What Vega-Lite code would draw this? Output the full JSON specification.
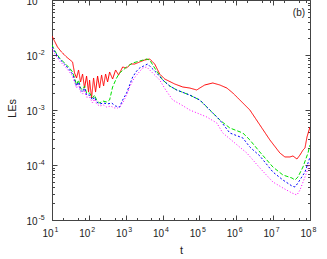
{
  "$schema": "https://vega.github.io/schema/vega-lite/v6.json",
  "width": 258,
  "height": 220,
  "autosize": {"type": "none"},
  "padding": {"left": 52, "top": 0, "right": 17, "bottom": 39},
  "config": {
    "view": {"stroke": "#444", "strokeWidth": 1},
    "axis": {
      "labelFont": "Liberation Sans",
      "labelFontSize": 10,
      "labelColor": "#222",
      "titleFont": "Liberation Sans",
      "titleFontSize": 11,
      "titleFontWeight": "normal",
      "titleColor": "#222",
      "grid": false,
      "domainColor": "#444",
      "tickColor": "#444"
    }
  },
  "datasets": {
    "labs": [
      {"ax": "x", "t": 10, "y": 0.00001, "e": "1"},
      {"ax": "x", "t": 100, "y": 0.00001, "e": "2"},
      {"ax": "x", "t": 1000, "y": 0.00001, "e": "3"},
      {"ax": "x", "t": 10000, "y": 0.00001, "e": "4"},
      {"ax": "x", "t": 100000, "y": 0.00001, "e": "5"},
      {"ax": "x", "t": 1000000, "y": 0.00001, "e": "6"},
      {"ax": "x", "t": 10000000, "y": 0.00001, "e": "7"},
      {"ax": "x", "t": 100000000, "y": 0.00001, "e": "8"},
      {"ax": "y", "t": 10, "y": 0.00001, "e": "-5"},
      {"ax": "y", "t": 10, "y": 0.0001, "e": "-4"},
      {"ax": "y", "t": 10, "y": 0.001, "e": "-3"},
      {"ax": "y", "t": 10, "y": 0.01, "e": "-2"},
      {"ax": "y", "t": 10, "y": 0.1, "e": "-1"}
    ],
    "lines": [
      {"s": "a", "t": 10, "y": 0.0221},
      {"s": "a", "t": 14.1, "y": 0.01398},
      {"s": "a", "t": 18.1, "y": 0.01134},
      {"s": "a", "t": 24.8, "y": 0.0092},
      {"s": "a", "t": 36.1, "y": 0.00746},
      {"s": "a", "t": 40.9, "y": 0.00471},
      {"s": "a", "t": 46.3, "y": 0.00382},
      {"s": "a", "t": 52.5, "y": 0.00534},
      {"s": "a", "t": 59.6, "y": 0.00323},
      {"s": "a", "t": 67.5, "y": 0.00451},
      {"s": "a", "t": 76.4, "y": 0.00251},
      {"s": "a", "t": 86.7, "y": 0.00415},
      {"s": "a", "t": 98.2, "y": 0.00212},
      {"s": "a", "t": 104.5, "y": 0.00351},
      {"s": "a", "t": 118.5, "y": 0.00165},
      {"s": "a", "t": 134.3, "y": 0.00382},
      {"s": "a", "t": 152, "y": 0.00212},
      {"s": "a", "t": 172.6, "y": 0.00415},
      {"s": "a", "t": 195.5, "y": 0.00251},
      {"s": "a", "t": 221.5, "y": 0.00433},
      {"s": "a", "t": 251, "y": 0.00273},
      {"s": "a", "t": 284.5, "y": 0.00451},
      {"s": "a", "t": 322.6, "y": 0.00323},
      {"s": "a", "t": 365.6, "y": 0.00491},
      {"s": "a", "t": 441, "y": 0.00366},
      {"s": "a", "t": 532, "y": 0.00534},
      {"s": "a", "t": 642, "y": 0.00433},
      {"s": "a", "t": 825, "y": 0.00605},
      {"s": "a", "t": 1059, "y": 0.0058},
      {"s": "a", "t": 1361, "y": 0.00686},
      {"s": "a", "t": 1746, "y": 0.00686},
      {"s": "a", "t": 2388, "y": 0.00746},
      {"s": "a", "t": 3266, "y": 0.00811},
      {"s": "a", "t": 4467, "y": 0.00846},
      {"s": "a", "t": 6110, "y": 0.00686},
      {"s": "a", "t": 8356, "y": 0.00451},
      {"s": "a", "t": 11430, "y": 0.00366},
      {"s": "a", "t": 21380, "y": 0.00297},
      {"s": "a", "t": 35260, "y": 0.00262},
      {"s": "a", "t": 54580, "y": 0.00251},
      {"s": "a", "t": 84720, "y": 0.00231},
      {"s": "a", "t": 102100, "y": 0.00251},
      {"s": "a", "t": 139700, "y": 0.00285},
      {"s": "a", "t": 230600, "y": 0.0031},
      {"s": "a", "t": 357300, "y": 0.00285},
      {"s": "a", "t": 553400, "y": 0.00251},
      {"s": "a", "t": 805500, "y": 0.00204},
      {"s": "a", "t": 1250000, "y": 0.00152},
      {"s": "a", "t": 2335000, "y": 0.001},
      {"s": "a", "t": 4365000, "y": 0.000534},
      {"s": "a", "t": 8166000, "y": 0.000285},
      {"s": "a", "t": 15280000, "y": 0.000165},
      {"s": "a", "t": 20890000, "y": 0.00014},
      {"s": "a", "t": 28580000, "y": 0.00014},
      {"s": "a", "t": 34450000, "y": 0.000146},
      {"s": "a", "t": 44250000, "y": 0.0001285},
      {"s": "a", "t": 53450000, "y": 0.000152},
      {"s": "a", "t": 64450000, "y": 0.000187},
      {"s": "a", "t": 73100000, "y": 0.000204},
      {"s": "a", "t": 82800000, "y": 0.000323},
      {"s": "a", "t": 100000000, "y": 0.000491},

      {"s": "b", "t": 10, "y": 0.0152},
      {"s": "b", "t": 12.45, "y": 0.01134},
      {"s": "b", "t": 16.0, "y": 0.00882},
      {"s": "b", "t": 21.9, "y": 0.00715},
      {"s": "b", "t": 29.9, "y": 0.0058},
      {"s": "b", "t": 36.1, "y": 0.00491},
      {"s": "b", "t": 40.9, "y": 0.00382},
      {"s": "b", "t": 46.3, "y": 0.00285},
      {"s": "b", "t": 52.5, "y": 0.00351},
      {"s": "b", "t": 59.6, "y": 0.00251},
      {"s": "b", "t": 67.5, "y": 0.00231},
      {"s": "b", "t": 76.4, "y": 0.00273},
      {"s": "b", "t": 86.7, "y": 0.00204},
      {"s": "b", "t": 104.5, "y": 0.00204},
      {"s": "b", "t": 126.1, "y": 0.00165},
      {"s": "b", "t": 143, "y": 0.00187},
      {"s": "b", "t": 162, "y": 0.00152},
      {"s": "b", "t": 195.5, "y": 0.00134},
      {"s": "b", "t": 235.9, "y": 0.00146},
      {"s": "b", "t": 303, "y": 0.0014},
      {"s": "b", "t": 365.6, "y": 0.00152},
      {"s": "b", "t": 441, "y": 0.00262},
      {"s": "b", "t": 566, "y": 0.00382},
      {"s": "b", "t": 683.5, "y": 0.00471},
      {"s": "b", "t": 1059, "y": 0.00605},
      {"s": "b", "t": 1542, "y": 0.00715},
      {"s": "b", "t": 2388, "y": 0.00778},
      {"s": "b", "t": 3705, "y": 0.00846},
      {"s": "b", "t": 4467, "y": 0.00811},
      {"s": "b", "t": 6110, "y": 0.0058},
      {"s": "b", "t": 10080, "y": 0.00351},
      {"s": "b", "t": 15630, "y": 0.00273},
      {"s": "b", "t": 24230, "y": 0.00231},
      {"s": "b", "t": 54580, "y": 0.00187},
      {"s": "b", "t": 102100, "y": 0.00152},
      {"s": "b", "t": 191100, "y": 0.001},
      {"s": "b", "t": 357300, "y": 0.000658},
      {"s": "b", "t": 668000, "y": 0.000471},
      {"s": "b", "t": 1507000, "y": 0.000382},
      {"s": "b", "t": 2335000, "y": 0.000285},
      {"s": "b", "t": 4365000, "y": 0.000172},
      {"s": "b", "t": 9851000, "y": 0.000092},
      {"s": "b", "t": 18420000, "y": 0.0000658},
      {"s": "b", "t": 32350000, "y": 0.000058},
      {"s": "b", "t": 39040000, "y": 0.0000534},
      {"s": "b", "t": 47100000, "y": 0.0000605},
      {"s": "b", "t": 64450000, "y": 0.000092},
      {"s": "b", "t": 88100000, "y": 0.000165},
      {"s": "b", "t": 100000000, "y": 0.000231},

      {"s": "c", "t": 10, "y": 0.01398},
      {"s": "c", "t": 12.45, "y": 0.01088},
      {"s": "c", "t": 16.0, "y": 0.00846},
      {"s": "c", "t": 21.9, "y": 0.00686},
      {"s": "c", "t": 29.9, "y": 0.00534},
      {"s": "c", "t": 36.1, "y": 0.00451},
      {"s": "c", "t": 40.9, "y": 0.00351},
      {"s": "c", "t": 46.3, "y": 0.00273},
      {"s": "c", "t": 52.5, "y": 0.00323},
      {"s": "c", "t": 59.6, "y": 0.00231},
      {"s": "c", "t": 67.5, "y": 0.00212},
      {"s": "c", "t": 76.4, "y": 0.00251},
      {"s": "c", "t": 86.7, "y": 0.00187},
      {"s": "c", "t": 104.5, "y": 0.00187},
      {"s": "c", "t": 126.1, "y": 0.00152},
      {"s": "c", "t": 143, "y": 0.00172},
      {"s": "c", "t": 162, "y": 0.0014},
      {"s": "c", "t": 195.5, "y": 0.00129},
      {"s": "c", "t": 251, "y": 0.00134},
      {"s": "c", "t": 322.6, "y": 0.00129},
      {"s": "c", "t": 414, "y": 0.00134},
      {"s": "c", "t": 532, "y": 0.00118},
      {"s": "c", "t": 683.5, "y": 0.00113},
      {"s": "c", "t": 825, "y": 0.00152},
      {"s": "c", "t": 1059, "y": 0.00204},
      {"s": "c", "t": 1278, "y": 0.00285},
      {"s": "c", "t": 1542, "y": 0.00398},
      {"s": "c", "t": 1981, "y": 0.00512},
      {"s": "c", "t": 2388, "y": 0.0058},
      {"s": "c", "t": 3070, "y": 0.00631},
      {"s": "c", "t": 3944, "y": 0.00686},
      {"s": "c", "t": 5066, "y": 0.0058},
      {"s": "c", "t": 6927, "y": 0.00471},
      {"s": "c", "t": 10080, "y": 0.00351},
      {"s": "c", "t": 15630, "y": 0.00273},
      {"s": "c", "t": 24230, "y": 0.00231},
      {"s": "c", "t": 54580, "y": 0.00187},
      {"s": "c", "t": 102100, "y": 0.00152},
      {"s": "c", "t": 191100, "y": 0.001},
      {"s": "c", "t": 357300, "y": 0.000658},
      {"s": "c", "t": 668000, "y": 0.000382},
      {"s": "c", "t": 1507000, "y": 0.00031},
      {"s": "c", "t": 2335000, "y": 0.000212},
      {"s": "c", "t": 4365000, "y": 0.000146},
      {"s": "c", "t": 9851000, "y": 0.0000746},
      {"s": "c", "t": 18420000, "y": 0.0000534},
      {"s": "c", "t": 32350000, "y": 0.0000415},
      {"s": "c", "t": 39040000, "y": 0.0000398},
      {"s": "c", "t": 47100000, "y": 0.0000471},
      {"s": "c", "t": 73100000, "y": 0.0000746},
      {"s": "c", "t": 100000000, "y": 0.00014},

      {"s": "d", "t": 10, "y": 0.01341},
      {"s": "d", "t": 12.45, "y": 0.01},
      {"s": "d", "t": 16.0, "y": 0.00778},
      {"s": "d", "t": 21.9, "y": 0.00631},
      {"s": "d", "t": 29.9, "y": 0.00491},
      {"s": "d", "t": 36.1, "y": 0.00415},
      {"s": "d", "t": 40.9, "y": 0.00323},
      {"s": "d", "t": 46.3, "y": 0.00251},
      {"s": "d", "t": 52.5, "y": 0.00297},
      {"s": "d", "t": 59.6, "y": 0.00212},
      {"s": "d", "t": 67.5, "y": 0.00195},
      {"s": "d", "t": 76.4, "y": 0.00231},
      {"s": "d", "t": 86.7, "y": 0.00172},
      {"s": "d", "t": 104.5, "y": 0.00172},
      {"s": "d", "t": 126.1, "y": 0.00134},
      {"s": "d", "t": 143, "y": 0.00158},
      {"s": "d", "t": 162, "y": 0.00129},
      {"s": "d", "t": 195.5, "y": 0.00118},
      {"s": "d", "t": 251, "y": 0.00123},
      {"s": "d", "t": 303, "y": 0.00113},
      {"s": "d", "t": 389, "y": 0.00118},
      {"s": "d", "t": 500, "y": 0.00109},
      {"s": "d", "t": 603, "y": 0.00109},
      {"s": "d", "t": 728, "y": 0.00118},
      {"s": "d", "t": 825, "y": 0.00134},
      {"s": "d", "t": 1059, "y": 0.00187},
      {"s": "d", "t": 1278, "y": 0.00262},
      {"s": "d", "t": 1642, "y": 0.00366},
      {"s": "d", "t": 1981, "y": 0.00433},
      {"s": "d", "t": 2884, "y": 0.0058},
      {"s": "d", "t": 3705, "y": 0.00605},
      {"s": "d", "t": 5066, "y": 0.00491},
      {"s": "d", "t": 8356, "y": 0.00351},
      {"s": "d", "t": 12170, "y": 0.00231},
      {"s": "d", "t": 18860, "y": 0.00152},
      {"s": "d", "t": 33130, "y": 0.00123},
      {"s": "d", "t": 54580, "y": 0.001},
      {"s": "d", "t": 158300, "y": 0.000746},
      {"s": "d", "t": 296000, "y": 0.00058},
      {"s": "d", "t": 431000, "y": 0.000382},
      {"s": "d", "t": 913000, "y": 0.000251},
      {"s": "d", "t": 1936000, "y": 0.000165},
      {"s": "d", "t": 4365000, "y": 0.0000882},
      {"s": "d", "t": 9851000, "y": 0.0000491},
      {"s": "d", "t": 18420000, "y": 0.0000382},
      {"s": "d", "t": 32350000, "y": 0.000031},
      {"s": "d", "t": 44250000, "y": 0.0000285},
      {"s": "d", "t": 53450000, "y": 0.0000351},
      {"s": "d", "t": 73100000, "y": 0.0000605},
      {"s": "d", "t": 100000000, "y": 0.000109}
    ]
  },
  "layer": [
    {
      "data": {"name": "lines"},
      "mark": {"type": "line", "strokeWidth": 1, "clip": true},
      "encoding": {
        "x": {
          "field": "t", "type": "quantitative",
          "scale": {"type": "log", "domain": [10, 100000000], "nice": false},
          "axis": {
            "orient": "bottom",
            "title": "t",
            "titleX": 129,
            "titleY": 30,
            "titleBaseline": "middle",
            "labels": false,
            "values": [10,20,50,80,100,200,500,800,1000,2000,5000,8000,10000,20000,50000,80000,100000,200000,500000,800000,1000000,2000000,5000000,8000000,10000000,20000000,50000000,80000000,100000000],
            "tickSize": {"condition": {"test": "abs(log(datum.value)/LN10 - round(log(datum.value)/LN10)) < 0.01", "value": -5}, "value": -2.5}
          }
        },
        "y": {
          "field": "y", "type": "quantitative",
          "scale": {"type": "log", "domain": [0.00001, 0.1], "nice": false},
          "axis": {
            "orient": "left",
            "title": "LEs",
            "titleX": -40,
            "titleY": 108,
            "titleAlign": "center",
            "titleBaseline": "middle",
            "labels": false,
            "values": [0.00001,0.00002,0.00003,0.00004,0.00005,0.00006,0.00007,0.00008,0.00009,0.0001,0.0002,0.0003,0.0004,0.0005,0.0006,0.0007,0.0008,0.0009,0.001,0.002,0.003,0.004,0.005,0.006,0.007,0.008,0.009,0.01,0.02,0.03,0.04,0.05,0.06,0.07,0.08,0.09,0.1],
            "tickSize": {"condition": {"test": "abs(log(datum.value)/LN10 - round(log(datum.value)/LN10)) < 0.01", "value": -5}, "value": -2.5}
          }
        },
        "color": {
          "field": "s", "type": "nominal",
          "scale": {"domain": ["a", "b", "c", "d"], "range": ["#ff0000", "#00e000", "#0000ff", "#ff00ff"]},
          "legend": null
        },
        "strokeDash": {
          "field": "s", "type": "nominal",
          "scale": {"domain": ["a", "b", "c", "d"], "range": [[1, 0], [4, 2], [2, 2], [1, 2]]},
          "legend": null
        }
      }
    },
    {
      "data": {"name": "lines"},
      "mark": {"type": "line", "opacity": 0},
      "encoding": {
        "x": {
          "field": "t", "type": "quantitative",
          "scale": {"type": "log", "domain": [10, 100000000], "nice": false},
          "axis": {
            "orient": "top", "title": null, "labels": false, "domain": false,
            "values": [10,20,50,80,100,200,500,800,1000,2000,5000,8000,10000,20000,50000,80000,100000,200000,500000,800000,1000000,2000000,5000000,8000000,10000000,20000000,50000000,80000000,100000000],
            "tickSize": {"condition": {"test": "abs(log(datum.value)/LN10 - round(log(datum.value)/LN10)) < 0.01", "value": -5}, "value": -2.5}
          }
        },
        "y": {
          "field": "y", "type": "quantitative",
          "scale": {"type": "log", "domain": [0.00001, 0.1], "nice": false},
          "axis": {
            "orient": "right", "title": null, "labels": false, "domain": false,
            "values": [0.00001,0.00002,0.00003,0.00004,0.00005,0.00006,0.00007,0.00008,0.00009,0.0001,0.0002,0.0003,0.0004,0.0005,0.0006,0.0007,0.0008,0.0009,0.001,0.002,0.003,0.004,0.005,0.006,0.007,0.008,0.009,0.01,0.02,0.03,0.04,0.05,0.06,0.07,0.08,0.09,0.1],
            "tickSize": {"condition": {"test": "abs(log(datum.value)/LN10 - round(log(datum.value)/LN10)) < 0.01", "value": -5}, "value": -2.5}
          }
        },
        "detail": {"field": "s"}
      }
    },
    {
      "data": {"name": "labs"},
      "transform": [{"filter": "datum.ax == 'x'"}],
      "mark": {"type": "text", "text": "10", "font": "Liberation Sans", "fontSize": 10, "color": "#222", "align": "right", "baseline": "alphabetic", "dx": 1.5, "dy": 17},
      "encoding": {
        "x": {"field": "t", "type": "quantitative", "scale": {"type": "log", "domain": [10, 100000000], "nice": false}, "axis": null},
        "y": {"field": "y", "type": "quantitative", "scale": {"type": "log", "domain": [0.00001, 0.1], "nice": false}, "axis": null}
      }
    },
    {
      "data": {"name": "labs"},
      "transform": [{"filter": "datum.ax == 'x'"}],
      "mark": {"type": "text", "font": "Liberation Sans", "fontSize": 7, "color": "#222", "align": "left", "baseline": "alphabetic", "dx": 2.5, "dy": 11.5},
      "encoding": {
        "x": {"field": "t", "type": "quantitative", "scale": {"type": "log", "domain": [10, 100000000], "nice": false}, "axis": null},
        "y": {"field": "y", "type": "quantitative", "scale": {"type": "log", "domain": [0.00001, 0.1], "nice": false}, "axis": null},
        "text": {"field": "e"}
      }
    },
    {
      "data": {"name": "labs"},
      "transform": [{"filter": "datum.ax == 'y'"}],
      "mark": {"type": "text", "text": "10", "font": "Liberation Sans", "fontSize": 10, "color": "#222", "align": "right", "baseline": "alphabetic", "dx": -14.5, "dy": 5},
      "encoding": {
        "x": {"field": "t", "type": "quantitative", "scale": {"type": "log", "domain": [10, 100000000], "nice": false}, "axis": null},
        "y": {"field": "y", "type": "quantitative", "scale": {"type": "log", "domain": [0.00001, 0.1], "nice": false}, "axis": null}
      }
    },
    {
      "data": {"name": "labs"},
      "transform": [{"filter": "datum.ax == 'y'"}],
      "mark": {"type": "text", "font": "Liberation Sans", "fontSize": 7, "color": "#222", "align": "left", "baseline": "alphabetic", "dx": -13.5, "dy": -0.5},
      "encoding": {
        "x": {"field": "t", "type": "quantitative", "scale": {"type": "log", "domain": [10, 100000000], "nice": false}, "axis": null},
        "y": {"field": "y", "type": "quantitative", "scale": {"type": "log", "domain": [0.00001, 0.1], "nice": false}, "axis": null},
        "text": {"field": "e"}
      }
    },
    {
      "data": {"values": [{"t": 50000000, "y": 0.058, "label": "(b)"}]},
      "mark": {"type": "text", "font": "Liberation Sans", "fontSize": 10, "color": "#222", "align": "center", "baseline": "middle"},
      "encoding": {
        "x": {"field": "t", "type": "quantitative", "scale": {"type": "log", "domain": [10, 100000000], "nice": false}, "axis": null},
        "y": {"field": "y", "type": "quantitative", "scale": {"type": "log", "domain": [0.00001, 0.1], "nice": false}, "axis": null},
        "text": {"field": "label"}
      }
    }
  ],
  "resolve": {"axis": {"x": "independent", "y": "independent"}}
}
